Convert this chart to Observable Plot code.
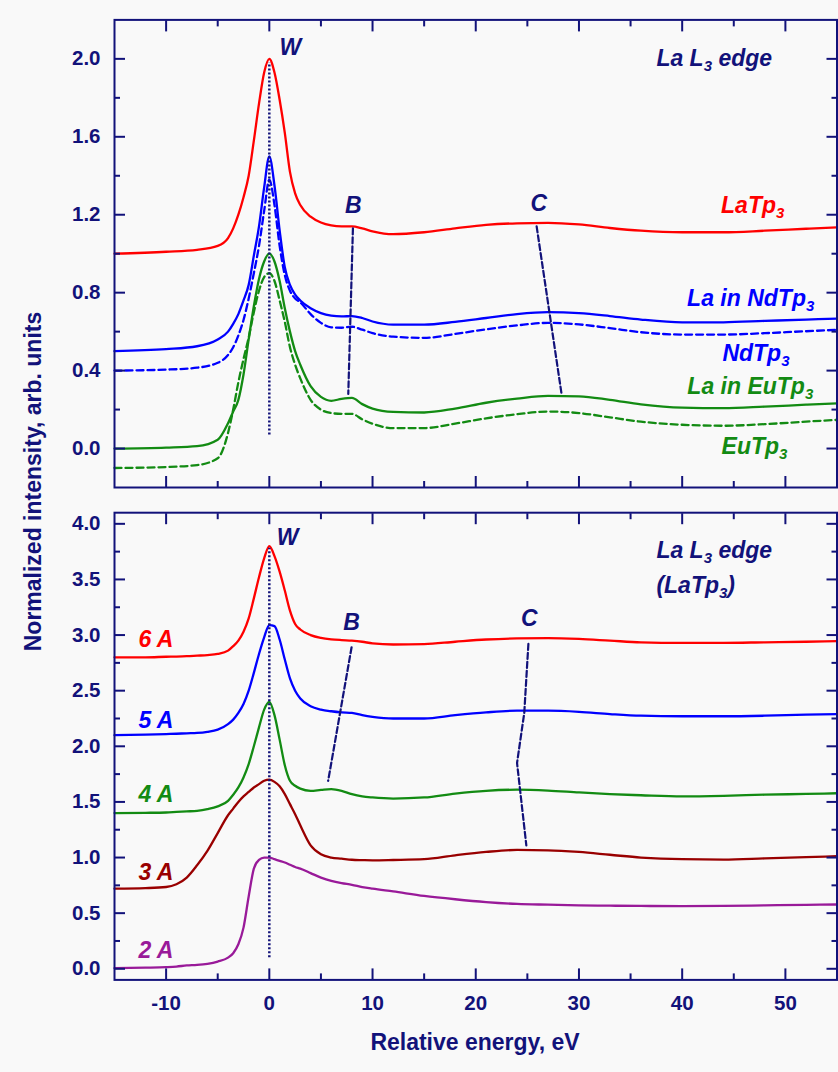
<!DOCTYPE html>
<html>
<head>
<meta charset="utf-8">
<script src="https://cdn.jsdelivr.net/npm/d3@7"></script>
<script src="https://cdn.jsdelivr.net/npm/@observablehq/plot@0.6"></script>
<style>
  html, body { margin: 0; padding: 0; background: #f9f9f9; }
  #wrap { position: relative; width: 838px; height: 1072px; overflow: hidden;
          font-family: "Liberation Sans", Arial, sans-serif; color: #12127a; font-weight: bold; }
  #topPanel, #bottomPanel { position: absolute; left: 0; }
  #topPanel { top: 0; }
  #bottomPanel { top: 500px; }
  #wrap svg g[aria-label="y-axis tick label"], #wrap svg g[aria-label="x-axis tick label"] {
    font-size: 20.5px !important; font-weight: bold !important; font-family: "Liberation Sans", Arial, sans-serif !important; }
  .ytitle { position: absolute; left: -166.7px; top: 470px; width: 400px; height: 23px;
            line-height: 23px; font-size: 23px; text-align: center; white-space: nowrap;
            transform: rotate(-90deg); transform-origin: 50% 50%; }
  .xtitle { position: absolute; left: 275px; top: 1030.5px; width: 400px; height: 23px;
            line-height: 23px; font-size: 23px; text-align: center; white-space: nowrap; }
</style>
</head>
<body>
<div id="wrap">
  <div id="topPanel"></div>
  <div id="bottomPanel"></div>
  <div class="ytitle">Normalized intensity, arb. units</div>
  <div class="xtitle">Relative energy, eV</div>
</div>
<script>
// ---------------- DATA: top panel (La L3 edge) ----------------
const energyTop = [-15,-10,-7,-5,-4,-3.5,-3,-2.5,-2,-1.5,-1,-0.5,0,0.5,1,1.5,2,2.5,3,4,5,6,7,8,9,10,12,15,18,21,24,27,30,33,36,40,44,48,52,55];
const laTp3     = [1.00,1.01,1.02,1.04,1.08,1.13,1.20,1.29,1.40,1.58,1.77,1.93,2.00,1.93,1.79,1.62,1.42,1.31,1.25,1.19,1.16,1.145,1.14,1.14,1.13,1.115,1.10,1.11,1.13,1.148,1.156,1.158,1.15,1.132,1.118,1.11,1.11,1.118,1.128,1.135];
const laInNdTp3 = [0.50,0.51,0.525,0.56,0.60,0.64,0.69,0.76,0.84,0.99,1.14,1.34,1.50,1.35,1.12,0.93,0.84,0.79,0.76,0.72,0.695,0.682,0.678,0.68,0.67,0.652,0.636,0.636,0.65,0.67,0.69,0.70,0.695,0.68,0.662,0.648,0.648,0.655,0.662,0.667];
const ndTp3     = [0.40,0.405,0.415,0.44,0.48,0.52,0.58,0.66,0.77,0.90,1.04,1.22,1.38,1.25,1.04,0.89,0.81,0.77,0.75,0.69,0.645,0.622,0.62,0.625,0.61,0.592,0.574,0.568,0.588,0.612,0.632,0.645,0.637,0.618,0.597,0.585,0.585,0.592,0.602,0.609];
const laInEuTp3 = [0.00,0.005,0.012,0.045,0.13,0.19,0.25,0.38,0.56,0.73,0.87,0.96,1.00,0.96,0.86,0.72,0.60,0.50,0.43,0.32,0.265,0.245,0.255,0.26,0.228,0.205,0.188,0.185,0.205,0.235,0.256,0.27,0.268,0.25,0.227,0.21,0.207,0.215,0.225,0.232];
const euTp3     = [-0.10,-0.095,-0.085,-0.05,0.08,0.20,0.34,0.46,0.57,0.70,0.81,0.88,0.90,0.86,0.76,0.65,0.52,0.43,0.36,0.25,0.20,0.182,0.178,0.178,0.15,0.127,0.105,0.105,0.128,0.155,0.176,0.19,0.182,0.16,0.138,0.122,0.117,0.125,0.138,0.147];

// ---------------- DATA: bottom panel (La L3 edge, LaTp3) ----------------
const energyBottom = [-15,-12,-10,-9,-8,-7,-6,-5,-4,-3.5,-3,-2.5,-2,-1.5,-1,-0.5,0,0.5,1,1.5,2,2.5,3,4,5,6,7,8,9,10,12,15,18,21,24,27,30,33,36,40,44,48,52,55];
const cut6A = [2.80,2.80,2.805,2.807,2.81,2.815,2.82,2.83,2.86,2.90,2.95,3.03,3.15,3.33,3.52,3.69,3.80,3.71,3.57,3.40,3.22,3.10,3.05,3.00,2.975,2.962,2.955,2.95,2.94,2.925,2.915,2.918,2.94,2.96,2.97,2.972,2.965,2.95,2.935,2.93,2.93,2.935,2.94,2.945];
const cut5A = [2.10,2.105,2.11,2.113,2.117,2.12,2.13,2.15,2.20,2.24,2.30,2.38,2.50,2.66,2.83,2.98,3.09,3.08,2.96,2.78,2.61,2.50,2.43,2.36,2.33,2.315,2.305,2.30,2.28,2.265,2.25,2.25,2.28,2.305,2.32,2.32,2.31,2.29,2.275,2.27,2.27,2.275,2.285,2.29];
const cut4A = [1.40,1.402,1.405,1.41,1.415,1.42,1.435,1.46,1.51,1.565,1.63,1.72,1.84,2.00,2.17,2.33,2.40,2.28,2.06,1.83,1.69,1.645,1.62,1.60,1.608,1.615,1.60,1.57,1.55,1.54,1.53,1.54,1.575,1.60,1.61,1.602,1.585,1.57,1.56,1.55,1.555,1.565,1.572,1.578];
const cut3A = [0.72,0.725,0.735,0.76,0.82,0.93,1.06,1.22,1.38,1.44,1.50,1.55,1.59,1.63,1.66,1.69,1.70,1.68,1.64,1.57,1.48,1.39,1.29,1.11,1.03,1.00,0.99,0.98,0.977,0.975,0.978,0.985,1.02,1.05,1.068,1.065,1.05,1.025,1.00,0.985,0.982,0.992,1.003,1.012];
const cut2A = [0.005,0.01,0.015,0.02,0.03,0.035,0.045,0.065,0.10,0.14,0.22,0.37,0.65,0.90,0.98,1.00,1.00,0.985,0.97,0.955,0.935,0.915,0.90,0.86,0.82,0.79,0.77,0.755,0.735,0.72,0.695,0.655,0.625,0.60,0.583,0.576,0.57,0.567,0.565,0.563,0.565,0.57,0.575,0.578];

// ---------------- ticks ----------------
const xMajorTicks = [-10,0,10,20,30,40,50];
const xMinorTicks = [-5,5,15,25,35,45];
const yMajorTop = [0.0,0.4,0.8,1.2,1.6,2.0];
const yMinorTop = [0.2,0.6,1.0,1.4,1.8];
const yMajorBottom = [0.0,0.5,1.0,1.5,2.0,2.5,3.0,3.5,4.0];
const yMinorBottom = [0.25,0.75,1.25,1.75,2.25,2.75,3.25,3.75];

// ---------------- annotations (data coordinates) ----------------
const topWLine = [{x: 0, y1: 0.07, y2: 1.98}];
const topBGuide = [{x: 8.1, y: 1.13}, {x: 7.65, y: 0.28}];
const topCGuide = [{x: 25.9, y: 1.14}, {x: 28.3, y: 0.285}];
const topFeatureLabels = [{label: "W", x: 2.05, y: 2.056}, {label: "B", x: 8.13, y: 1.246}, {label: "C", x: 26.1, y: 1.255}];
const topSeriesLabels = [
  {key: "laTp3", label: "LaTp_3", x: 49.9, y: 1.248},
  {key: "laInNdTp3", label: "La in NdTp_3", x: 52.8, y: 0.768},
  {key: "ndTp3", label: "NdTp_3", x: 50.4, y: 0.487},
  {key: "laInEuTp3", label: "La in EuTp_3", x: 52.7, y: 0.317},
  {key: "euTp3", label: "EuTp_3", x: 50.2, y: 0.01}
];
const topTitle = [{label: "La L_3 edge", x: 37.5, y: 2.0}];

const bottomWLine = [{x: 0, y1: 0.1, y2: 3.78}];
const bottomBGuide = [{x: 7.97, y: 2.89}, {x: 5.7, y: 1.69}];
const bottomCGuide = [{x: 25.1, y: 2.92}, {x: 24.7, y: 2.3}, {x: 24.0, y: 1.85}, {x: 24.9, y: 1.11}];
const bottomFeatureLabels = [{label: "W", x: 1.76, y: 3.88}, {label: "B", x: 7.97, y: 3.108}, {label: "C", x: 25.2, y: 3.149}];
const bottomSeriesLabels = [
  {key: "cut6A", label: "6 A", x: -12.68, y: 2.958},
  {key: "cut5A", label: "5 A", x: -12.68, y: 2.229},
  {key: "cut4A", label: "4 A", x: -12.68, y: 1.569},
  {key: "cut3A", label: "3 A", x: -12.68, y: 0.864},
  {key: "cut2A", label: "2 A", x: -12.68, y: 0.162}
];
const bottomTitle = [{label: "La L_3 edge", x: 37.5, y: 3.755}, {label: "(LaTp_3)", x: 37.5, y: 3.44}];

// ---------------- styles ----------------
const navy = "#12127a";
const colors = {
  laTp3: "#ff0000", laInNdTp3: "#0000ff", ndTp3: "#0000ff", laInEuTp3: "#138b13", euTp3: "#138b13",
  cut6A: "#ff0000", cut5A: "#0000ff", cut4A: "#138b13", cut3A: "#990000", cut2A: "#991a99"
};
const fontFamily = "'Liberation Sans', Arial, sans-serif";
const rows = (xs, ys) => xs.map((x, i) => ({x, y: ys[i]}));
const blank = () => "";

function frameMarks(yMajor, yMinor, showXLabels, yFmt) {
  const t = {strokeWidth: 2, label: null};
  const marks = [
    Plot.axisX(xMajorTicks, {anchor: "bottom", tickSize: -11, tickFormat: blank, ...t}),
    Plot.axisX(xMinorTicks, {anchor: "bottom", tickSize: -6, tickFormat: blank, ...t}),
    Plot.axisX(xMajorTicks, {anchor: "top", tickSize: -11, tickFormat: blank, ...t}),
    Plot.axisX(xMinorTicks, {anchor: "top", tickSize: -6, tickFormat: blank, ...t}),
    Plot.axisY(yMajor, {anchor: "left", tickSize: -11, tickFormat: blank, ...t}),
    Plot.axisY(yMinor, {anchor: "left", tickSize: -6, tickFormat: blank, ...t}),
    Plot.axisY(yMajor, {anchor: "right", tickSize: -11, tickFormat: blank, ...t}),
    Plot.axisY(yMinor, {anchor: "right", tickSize: -6, tickFormat: blank, ...t}),
    Plot.axisY(yMajor, {anchor: "left", tickSize: 0, tickPadding: 14, tickFormat: yFmt, label: null, fontSize: 20.5, fontWeight: "bold"}),
    Plot.frame({stroke: navy, strokeWidth: 2})
  ];
  if (showXLabels) {
    marks.push(Plot.axisX(xMajorTicks, {anchor: "bottom", tickSize: 0, tickPadding: 16, tickFormat: d => String(d), label: null, fontSize: 20.5, fontWeight: "bold"}));
  }
  return marks;
}

function seriesLine(xs, ys, key, dashed) {
  return Plot.line(rows(xs, ys), {x: "x", y: "y", stroke: colors[key], strokeWidth: 2.3,
    strokeDasharray: dashed ? "7,4" : null, curve: "monotone-x"});
}

function annotationMarks(wLine, bGuide, cGuide, featureLabels, seriesLabels, titles, anchor) {
  const textStyle = {fontSize: 23, fontWeight: "bold", fontStyle: "italic", lineAnchor: "middle"};
  const marks = [
    Plot.ruleX(wLine, {x: "x", y1: "y1", y2: "y2", stroke: navy, strokeWidth: 2.5, strokeDasharray: "2,2"}),
    Plot.line(bGuide, {x: "x", y: "y", stroke: navy, strokeWidth: 2.2, strokeDasharray: "6,3"}),
    Plot.line(cGuide, {x: "x", y: "y", stroke: navy, strokeWidth: 2.2, strokeDasharray: "6,3"}),
    Plot.text(featureLabels, {x: "x", y: "y", text: "label", fill: navy, textAnchor: "middle", ...textStyle}),
    Plot.text(titles, {x: "x", y: "y", text: "label", fill: navy, textAnchor: "start", ...textStyle})
  ];
  for (const s of seriesLabels) {
    marks.push(Plot.text([s], {x: "x", y: "y", text: "label", fill: colors[s.key], textAnchor: anchor, ...textStyle}));
  }
  return marks;
}

function applySubscripts(svg) {
  svg.querySelectorAll("text").forEach(t => {
    const s = t.textContent;
    if (!s.includes("_")) return;
    const parts = s.split(/_(\d)/);
    while (t.firstChild) t.removeChild(t.firstChild);
    let lowered = false;
    parts.forEach((p, i) => {
      if (p === "") return;
      const ts = document.createElementNS("http://www.w3.org/2000/svg", "tspan");
      ts.textContent = p;
      if (i % 2 === 1) {
        ts.setAttribute("dy", "5");
        ts.setAttribute("font-size", "15");
        lowered = true;
      } else if (lowered) {
        ts.setAttribute("dy", "-5");
        lowered = false;
      }
      t.appendChild(ts);
    });
  });
}

const commonStyle = {background: "transparent", color: navy, fontFamily, fontWeight: "bold", fontSize: "20px", overflow: "visible"};

const topPlot = Plot.plot({
  width: 838, height: 500,
  marginTop: 19.4, marginBottom: 13, marginLeft: 114, marginRight: 1.5,
  x: {domain: [-15, 55], label: null},
  y: {domain: [-0.2, 2.2], label: null},
  style: commonStyle,
  marks: [
    seriesLine(energyTop, laTp3, "laTp3", false),
    seriesLine(energyTop, ndTp3, "ndTp3", true),
    seriesLine(energyTop, laInNdTp3, "laInNdTp3", false),
    seriesLine(energyTop, euTp3, "euTp3", true),
    seriesLine(energyTop, laInEuTp3, "laInEuTp3", false),
    ...annotationMarks(topWLine, topBGuide, topCGuide, topFeatureLabels, topSeriesLabels, topTitle, "end"),
    ...frameMarks(yMajorTop, yMinorTop, false, d3.format(".1f"))
  ]
});
applySubscripts(topPlot);
document.getElementById("topPanel").appendChild(topPlot);

const bottomPlot = Plot.plot({
  width: 838, height: 572,
  marginTop: 12.2, marginBottom: 92.6, marginLeft: 114, marginRight: 1.5,
  x: {domain: [-15, 55], label: null},
  y: {domain: [-0.1, 4.1], label: null},
  style: commonStyle,
  marks: [
    seriesLine(energyBottom, cut6A, "cut6A", false),
    seriesLine(energyBottom, cut5A, "cut5A", false),
    seriesLine(energyBottom, cut4A, "cut4A", false),
    seriesLine(energyBottom, cut3A, "cut3A", false),
    seriesLine(energyBottom, cut2A, "cut2A", false),
    ...annotationMarks(bottomWLine, bottomBGuide, bottomCGuide, bottomFeatureLabels, bottomSeriesLabels, bottomTitle, "start"),
    ...frameMarks(yMajorBottom, yMinorBottom, true, d3.format(".1f"))
  ]
});
applySubscripts(bottomPlot);
document.getElementById("bottomPanel").appendChild(bottomPlot);
</script>
</body>
</html>
